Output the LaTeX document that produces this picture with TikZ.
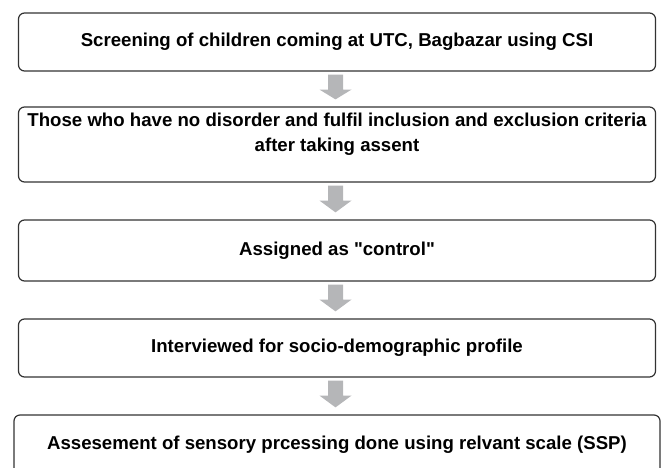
\documentclass[tikz,border=0pt]{standalone}
\usepackage{fontspec}
\newfontfamily\boxfont{Liberation Sans}
\usetikzlibrary{calc}

\definecolor{boxline}{HTML}{333333}
\definecolor{arrowgray}{HTML}{B5B6B8}

\tikzset{
  box/.style={draw=boxline, line width=1.2bp, rounded corners=6bp,
    minimum width=637bp, inner sep=0pt},
  txt/.style={font=\boxfont\fontsize{18.7}{25}\selectfont\bfseries, text=black, inner sep=0pt},
}
% block arrow below a box: shaft 15 wide, head 32 wide
\newcommand{\flowarrow}[2]{%
  \fill[arrowgray] ($(#1.south)+(-9,3)$) -- ++(15,0) -- ++(0,15) -- ++(8.5,0)
    -- ($(#2.north)+(-1.5,-7)$) -- ($(#1.south)+(-17.5,18)$) -- ++(8.5,0) -- cycle;}

\begin{document}
\begin{tikzpicture}[x=1bp, y=-1bp]
\clip (0,0) rectangle (662,468);
\useasboundingbox (0,0) rectangle (662,468);

\node[box, minimum height=58bp] (b1) at (337,42) {};
\node[txt] (t1) at (b1) {Screening of children coming at UTC, Bagbazar using CSI};

\node[box, minimum height=75bp] (b2) at (337,144.5) {};
\node[txt, align=center] (t2) at (337,134) {Those who have no disorder and fulfil inclusion and exclusion criteria\\after taking assent};

\node[box, minimum height=61bp] (b3) at (337,250.5) {};
\node[txt] (t3) at (b3) {Assigned as "control"};

\node[box, minimum height=58bp] (b4) at (337,348) {};
\node[txt] (t4) at (b4) {Interviewed for socio-demographic profile};

\node[box, minimum width=646bp, minimum height=60bp] (b5) at (337,445) {};
\node[txt] (t5) at (b5) {Assesement of sensory prcessing done using relvant scale (SSP)};

\flowarrow{b1}{b2}
\flowarrow{b2}{b3}
\flowarrow{b3}{b4}
\flowarrow{b4}{b5}
\end{tikzpicture}
\end{document}
